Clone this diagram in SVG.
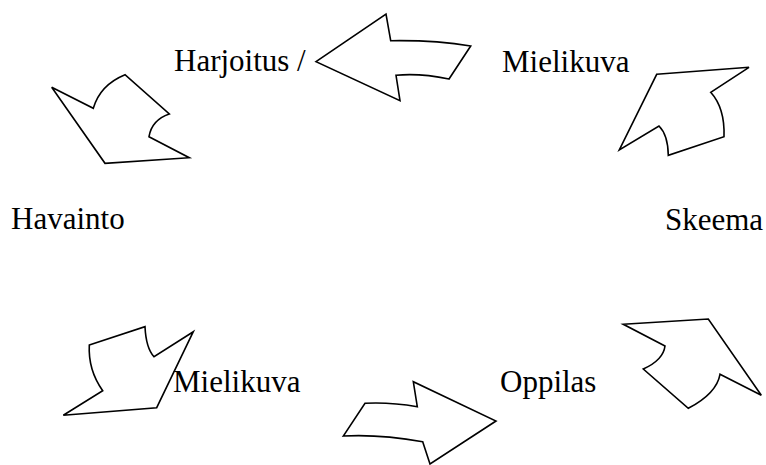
<svg xmlns="http://www.w3.org/2000/svg" width="766" height="465" viewBox="0 0 766 465">
<style>
.a{fill:#fff;stroke:#000;stroke-width:1.6;stroke-linejoin:miter}
.t{font-family:"Liberation Serif","Times New Roman",serif;font-size:31px;fill:#000}
</style>
<rect width="766" height="465" fill="#fff"/>
<g id="connectors">
<path id="arrow-top" class="a" d="M316,61.7 L386,14 L390.7,40.7 Q435,40 470.7,46 L449,79 Q420,73 396,75.3 L400,100.7 Z"/>
<path id="arrow-topright" class="a" d="M656.7,74.3 L749,67.3 L710.7,92.3 Q725,108 724,136.7 L668.3,155.3 Q668,135 659,126 L619.3,150 Z"/>
<path id="arrow-topleft" class="a" d="M51.7,87.3 L93.3,108.3 Q100,85 125,74.7 L169.3,114 Q151.7,120 149,136.7 L189.3,157.7 L105,163.3 Z"/>
<path id="arrow-bottomleft" class="a" d="M89.3,345 L145,326.7 Q146,348 154,356.7 L193.3,331.7 L156.7,407.7 L63.3,415.3 L102.7,390.7 Q88,370 89.3,345 Z"/>
<path id="arrow-bottom" class="a" d="M365,403.3 Q390,402 417.3,406.7 L413.3,381.7 L496,421 L430,464 L422.7,441.7 Q380,434 343.3,436 Z"/>
<path id="arrow-bottomright" class="a" d="M623.3,324.3 L708.3,319 L761.3,395.3 L720,374.3 Q716.7,393.3 688.3,408.3 L643.3,369 Q663.3,360 665,346 Z"/>
</g>
<g id="n-harjoitus"><text class="t" x="174" y="71">Harjoitus /</text></g>
<g id="n-mielikuva-top"><text class="t" x="502" y="72">Mielikuva</text></g>
<g id="n-havainto"><text class="t" x="11" y="229">Havainto</text></g>
<g id="n-skeema"><text class="t" x="665" y="230">Skeema</text></g>
<g id="n-mielikuva-bottom"><text class="t" x="173" y="392">Mielikuva</text></g>
<g id="n-oppilas"><text class="t" x="500" y="392">Oppilas</text></g>
</svg>
